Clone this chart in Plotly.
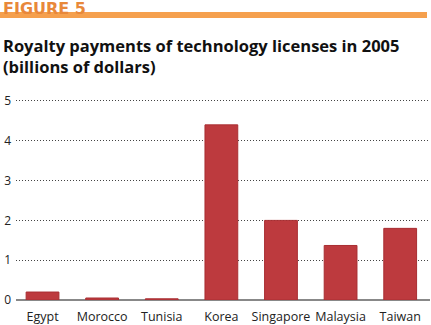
import plotly.graph_objects as go

countries = ["Egypt", "Morocco", "Tunisia", "Korea", "Singapore", "Malaysia", "Taiwan"]
payments = [0.20, 0.05, 0.03, 4.40, 2.00, 1.37, 1.80]
y_ticks = [0, 1, 2, 3, 4, 5]

W, H = 431, 325
ML, MR, MT, MB = 16, 1, 99, 25
PW, PH = W - ML - MR, H - MT - MB

def px_x(x):
    return (x - ML) / PW

def px_y(y):
    return (H - MB - y) / PH

fig = go.Figure(go.Bar(
    x=countries, y=payments,
    marker=dict(color="#BD3A3E", line=dict(color="#A92E32", width=1)),
    width=0.55,
))

fig.update_layout(
    width=W, height=H,
    margin=dict(l=ML, r=MR, t=MT, b=MB, autoexpand=False),
    paper_bgcolor="white", plot_bgcolor="white",
    font=dict(family="Open Sans", size=12, color="#222"),
    showlegend=False,
    xaxis=dict(range=[-0.445, 6.5], showgrid=False, showline=False, ticks="",
               tickfont=dict(size=12.5, color="#222"), zeroline=False, fixedrange=True,
               ticklabelstandoff=7, automargin=False),
    yaxis=dict(range=[0, 5.05], tickvals=y_ticks, showgrid=True, gridcolor="#444",
               griddash="1px,2px", gridwidth=1, zeroline=True, zerolinecolor="#888",
               zerolinewidth=1.5, ticks="", tickfont=dict(size=12, color="#222"),
               ticklabelstandoff=4, showline=False, automargin=False),
    shapes=[dict(type="rect", xref="paper", yref="paper",
                 x0=px_x(0), x1=px_x(427), y0=px_y(18), y1=px_y(12),
                 fillcolor="#F5A04E", line=dict(width=0), layer="below")],
    annotations=[
        dict(text="<b>FIGURE 5</b>",
             xref="paper", yref="paper",
             x=px_x(1), y=px_y(-3), xanchor="left", yanchor="top", showarrow=False,
             font=dict(family="DejaVu Sans", size=16, color="#E8883A")),
        dict(text="<b>Royalty payments of technology licenses in 2005<br>(billions of dollars)</b>",
             xref="paper", yref="paper", x=px_x(1), y=px_y(32), xanchor="left",
             yanchor="top", align="left", showarrow=False,
             font=dict(family="Open Sans", size=16.5, color="#111")),
    ],
)

fig.write_html("out.html")
